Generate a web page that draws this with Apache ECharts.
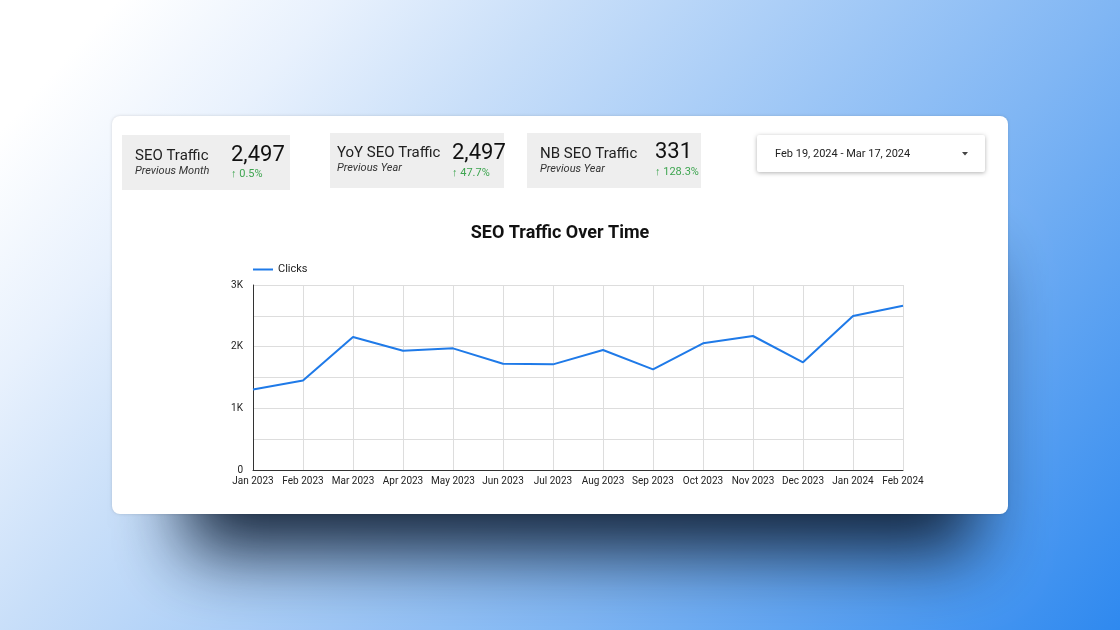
<!DOCTYPE html>
<html><head><meta charset="utf-8">
<script src="https://cdn.jsdelivr.net/npm/echarts@6/dist/echarts.min.js"></script>
<style>html,body{margin:0;padding:0;}#c{width:1120px;height:630px;}</style>
</head><body><div id="c"></div>
<script>
const categories = ['Jan 2023','Feb 2023','Mar 2023','Apr 2023','May 2023','Jun 2023','Jul 2023','Aug 2023','Sep 2023','Oct 2023','Nov 2023','Dec 2023','Jan 2024','Feb 2024'];
const clicks = [1305, 1450, 2157, 1935, 1973, 1724, 1713, 1946, 1632, 2054, 2173, 1746, 2497, 2665];
const kpiTitles = ['SEO Traffic','YoY SEO Traffic','NB SEO Traffic'];
const kpiSubtitles = ['Previous Month','Previous Year','Previous Year'];
const kpiValues = ['2,497','2,497','331'];
const kpiChanges = ['0.5%','47.7%','128.3%'];
const dateRange = 'Feb 19, 2024 - Mar 17, 2024';

const FONT = 'Roboto, "Noto Sans", sans-serif';
const boxes = [
  {x:122,y:135,w:168,h:55, tx:135, ty:156, sy:171, vx:231, vy:155, cy:174},
  {x:330,y:133,w:174,h:55, tx:337, ty:153, sy:168, vx:452, vy:153, cy:173},
  {x:527,y:133,w:174,h:55, tx:540, ty:154, sy:169, vx:655, vy:152, cy:172}
];
const graphics = [
  {type:'rect', z:-100, shape:{x:0,y:0,width:1120,height:630},
   style:{fill:new echarts.graphic.LinearGradient(0,0,937,834,[
     {offset:0,color:'#ffffff'},{offset:0.07,color:'#ffffff'},{offset:0.2,color:'#e8f1fd'},
     {offset:0.333,color:'#c9dff9'},{offset:0.667,color:'#80b6f4'},{offset:1,color:'#2f89ef'}], true)}},
  {type:'rect', z:-95, shape:{x:185,y:220,width:790,height:290,r:8},
   style:{fill:'#1a2b40', shadowBlur:70, shadowOffsetY:42,
     shadowColor:'rgba(14,30,52,0.97)'}},
  {type:'rect', z:-90, shape:{x:112,y:116,width:896,height:398,r:8},
   style:{fill:'#ffffff', shadowBlur:3, shadowColor:'rgba(0,0,0,0.15)'}}
];
boxes.forEach((b,i)=>{
  graphics.push({type:'rect', z:-80, shape:{x:b.x,y:b.y,width:b.w,height:b.h}, style:{fill:'#eeeeee'}});
  graphics.push({type:'text', z:5, x:b.tx, y:b.ty, style:{text:kpiTitles[i], fill:'#212121', font:'15px '+FONT, verticalAlign:'middle'}});
  graphics.push({type:'text', z:5, x:b.tx, y:b.sy, style:{text:kpiSubtitles[i], fill:'#333333', font:'italic 11px '+FONT, verticalAlign:'middle'}});
  graphics.push({type:'text', z:5, x:b.vx, y:b.vy, style:{text:kpiValues[i], fill:'#111111', font:'22px '+FONT, verticalAlign:'middle'}});
  graphics.push({type:'text', z:5, x:b.vx, y:b.cy, style:{text:'\u2191 '+kpiChanges[i], fill:'#3ea550', font:'11px '+FONT, verticalAlign:'middle'}});
});
graphics.push({type:'rect', z:-80, shape:{x:757,y:135,width:228,height:37,r:2},
  style:{fill:'#ffffff', shadowBlur:4, shadowOffsetY:1, shadowColor:'rgba(0,0,0,0.3)'}});
graphics.push({type:'text', z:5, x:775, y:154, style:{text:dateRange, fill:'#222222', font:'11px '+FONT, verticalAlign:'middle'}});
graphics.push({type:'polygon', z:5, shape:{points:[[962,152],[968,152],[965,155.5]]}, style:{fill:'#444444'}});

const chart = echarts.init(document.getElementById('c'), null, {renderer:'canvas'});
chart.setOption({
  animation:false,
  title:{text:'SEO Traffic Over Time', left:'center', top:219, textStyle:{fontFamily:FONT, fontSize:18, fontWeight:'bold', color:'#111111'}},
  legend:{left:248, top:259, itemWidth:20, itemHeight:2, icon:'rect', itemGap:6,
    textStyle:{fontFamily:FONT, fontSize:11, color:'#222222'}, data:['Clicks']},
  grid:{left:253, right:217, top:285, bottom:160, containLabel:false},
  xAxis:{type:'category', data:categories, boundaryGap:false,
    axisLine:{lineStyle:{color:'#333333', width:1}}, axisTick:{show:false},
    axisLabel:{fontFamily:FONT, fontSize:10, color:'#222222', margin:6, interval:0},
    splitLine:{show:true, lineStyle:{color:'#dddddd'}}},
  yAxis:{type:'value', min:0, max:3000, interval:500,
    axisLine:{show:true, lineStyle:{color:'#333333', width:1}}, axisTick:{show:false},
    axisLabel:{fontFamily:FONT, fontSize:10, color:'#222222', margin:10,
      formatter:v=> v===0 ? '0' : (v%1000===0 ? (v/1000)+'K' : '')},
    splitLine:{lineStyle:{color:'#dddddd'}}},
  series:[{name:'Clicks', type:'line', data:clicks, showSymbol:false, symbol:'none',
    lineStyle:{color:'#1f7ae8', width:2}, itemStyle:{color:'#1f7ae8'}}],
  graphic:{elements:graphics}
});
</script></body></html>
